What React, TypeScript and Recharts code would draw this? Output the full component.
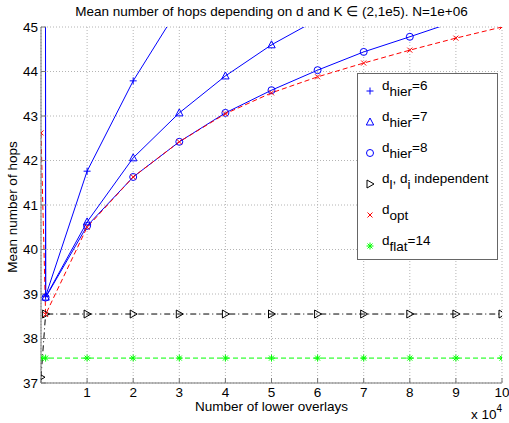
import React from 'react';
import { LineChart, Line, XAxis, YAxis, CartesianGrid } from 'recharts';

const overlays = [0, 0.1, 1, 2, 3, 4, 5, 6, 7, 8, 9, 10];
const hier6 = [300, 38.95, 41.76, 43.79, 45.45, null, null, null, null, null, null, null];
const hier7 = [300, 38.93, 40.62, 42.06, 43.07, 43.9, 44.6, 45.17, null, null, null, null];
const hier8 = [300, 38.92, 40.53, 41.63, 42.42, 43.07, 43.58, 44.03, 44.44, 44.78, 45.13, null];
const indep = [37.13, 38.55, 38.55, 38.55, 38.55, 38.55, 38.55, 38.55, 38.55, 38.55, 38.55, 38.55];
const opt = [42.62, 38.54, 40.5, 41.63, 42.42, 43.05, 43.52, 43.88, 44.19, 44.48, 44.75, 45.0];
const flat = [37.56, 37.56, 37.56, 37.56, 37.56, 37.56, 37.56, 37.56, 37.56, 37.56, 37.56, 37.56];
const xTicks = [0, 1, 2, 3, 4, 5, 6, 7, 8, 9, 10];
const yTicks = [37, 38, 39, 40, 41, 42, 43, 44, 45];

const rows = overlays.map((x, i) => ({
  x,
  hier6: hier6[i],
  hier7: hier7[i],
  hier8: hier8[i],
  indep: indep[i],
  opt: opt[i],
  flat: flat[i],
}));

const BLUE = '#0000ff';
const RED = '#ff0000';
const GREEN = '#00ff00';
const BLACK = '#000000';
const FONT = '"Liberation Sans", Arial, Helvetica, sans-serif';
const FS = 13.5;

type Kind = 'plus' | 'tri' | 'circle' | 'rtri' | 'x' | 'star';

function markerShape(kind: Kind, cx: number, cy: number, color: string) {
  const s = { stroke: color, strokeWidth: 1, fill: 'none' };
  switch (kind) {
    case 'plus':
      return (
        <g>
          <line x1={cx - 3.5} y1={cy} x2={cx + 3.5} y2={cy} {...s} />
          <line x1={cx} y1={cy - 3.5} x2={cx} y2={cy + 3.5} {...s} />
        </g>
      );
    case 'tri':
      return <polygon points={`${cx},${cy - 4} ${cx + 3.7},${cy + 3} ${cx - 3.7},${cy + 3}`} {...s} />;
    case 'circle':
      return <circle cx={cx} cy={cy} r={3.5} {...s} />;
    case 'rtri':
      return <polygon points={`${cx - 3},${cy - 4} ${cx + 4},${cy} ${cx - 3},${cy + 4}`} {...s} />;
    case 'x':
      return (
        <g>
          <line x1={cx - 2.5} y1={cy - 2.5} x2={cx + 2.5} y2={cy + 2.5} {...s} />
          <line x1={cx - 2.5} y1={cy + 2.5} x2={cx + 2.5} y2={cy - 2.5} {...s} />
        </g>
      );
    case 'star':
    default:
      return (
        <g>
          <line x1={cx - 3.5} y1={cy} x2={cx + 3.5} y2={cy} {...s} />
          <line x1={cx} y1={cy - 3.5} x2={cx} y2={cy + 3.5} {...s} />
          <line x1={cx - 2.5} y1={cy - 2.5} x2={cx + 2.5} y2={cy + 2.5} {...s} />
          <line x1={cx - 2.5} y1={cy + 2.5} x2={cx + 2.5} y2={cy - 2.5} {...s} />
        </g>
      );
  }
}

const makeDot = (kind: Kind, color: string) => (p: any) => {
  const { cx, cy, value, index } = p;
  const v = Array.isArray(value) ? value[1] : value;
  if (cx == null || cy == null || v == null || v > 45.05 || v < 36.95) {
    return <g key={`e-${index}`} />;
  }
  return <g key={`m-${index}`}>{markerShape(kind, cx, cy, color)}</g>;
};

const legendItems: { kind: Kind; color: string; main: string; sub: string; rest: string; extra?: boolean }[] = [
  { kind: 'plus', color: BLUE, main: 'd', sub: 'hier', rest: '=6' },
  { kind: 'tri', color: BLUE, main: 'd', sub: 'hier', rest: '=7' },
  { kind: 'circle', color: BLUE, main: 'd', sub: 'hier', rest: '=8' },
  { kind: 'rtri', color: BLACK, main: 'd', sub: 'l', rest: '', extra: true },
  { kind: 'x', color: RED, main: 'd', sub: 'opt', rest: '' },
  { kind: 'star', color: GREEN, main: 'd', sub: 'flat', rest: '=14' },
];

function LegendBox() {
  return (
    <div
      style={{
        position: 'absolute',
        left: 357,
        top: 73,
        width: 139,
        height: 185,
        border: '1px solid #666',
        background: '#fff',
        fontFamily: FONT,
        fontSize: FS,
        color: '#000',
      }}
    >
      {legendItems.map((it, i) => {
        const cy = 15.5 + i * 31;
        return (
          <div key={i} style={{ position: 'absolute', left: 0, top: cy - 10, width: 139, height: 20 }}>
            <svg width={20} height={20} style={{ position: 'absolute', left: 2, top: 0 }}>
              {markerShape(it.kind, 10, 11, it.color)}
            </svg>
            <div style={{ position: 'absolute', left: 24, top: -2, whiteSpace: 'nowrap', lineHeight: '15px' }}>
              {it.main}
              <span style={{ position: 'relative', top: 6 }}>{it.sub}</span>
              {it.extra ? (
                <>
                  {', d'}
                  <span style={{ position: 'relative', top: 6 }}>i</span>
                  {' independent'}
                </>
              ) : (
                it.rest
              )}
            </div>
          </div>
        );
      })}
    </div>
  );
}

export default function App() {
  return (
    <div
      style={{
        position: 'absolute',
        left: 0,
        top: 0,
        width: 509,
        height: 423,
        background: '#fff',
        fontFamily: FONT,
      }}
    >
      <LineChart width={509} height={423} data={rows} margin={{ top: 27, right: 7, bottom: 0, left: 0 }}>
        <CartesianGrid xAxisId="b" yAxisId="l" stroke="#b4b4b4" strokeDasharray="1 2" />
        <XAxis
          xAxisId="b"
          dataKey="x"
          type="number"
          domain={[0, 10]}
          ticks={xTicks}
          interval={0}
          allowDataOverflow
          height={40}
          stroke="#777"
          tickSize={-5}
          tickMargin={9}
          tickFormatter={(v: number) => (v === 0 ? '' : String(v))}
          tick={{ fill: '#000', fontSize: FS, fontFamily: FONT }}
        />
        <XAxis
          xAxisId="t"
          orientation="top"
          dataKey="x"
          type="number"
          domain={[0, 10]}
          ticks={xTicks}
          interval={0}
          allowDataOverflow
          height={0}
          stroke="#777"
          tickSize={-5}
          tick={false}
        />
        <YAxis
          yAxisId="l"
          type="number"
          domain={[37, 45]}
          ticks={yTicks}
          interval={0}
          allowDataOverflow
          width={41}
          stroke="#777"
          tickSize={-5}
          tickMargin={8}
          tick={{ fill: '#000', fontSize: FS, fontFamily: FONT }}
        />
        <YAxis
          yAxisId="r"
          orientation="right"
          type="number"
          domain={[37, 45]}
          ticks={yTicks}
          interval={0}
          allowDataOverflow
          width={0}
          stroke="#777"
          tickSize={-5}
          tick={false}
        />
        <Line xAxisId="b" yAxisId="l" type="linear" dataKey="hier6" stroke={BLUE} strokeWidth={1} dot={makeDot('plus', BLUE)} activeDot={false} isAnimationActive={false} />
        <Line xAxisId="b" yAxisId="l" type="linear" dataKey="hier7" stroke={BLUE} strokeWidth={1} dot={makeDot('tri', BLUE)} activeDot={false} isAnimationActive={false} />
        <Line xAxisId="b" yAxisId="l" type="linear" dataKey="hier8" stroke={BLUE} strokeWidth={1} dot={makeDot('circle', BLUE)} activeDot={false} isAnimationActive={false} />
        <Line xAxisId="b" yAxisId="l" type="linear" dataKey="indep" stroke={BLACK} strokeWidth={1} strokeDasharray="6 3 1 3" dot={makeDot('rtri', BLACK)} activeDot={false} isAnimationActive={false} />
        <Line xAxisId="b" yAxisId="l" type="linear" dataKey="opt" stroke={RED} strokeWidth={1} strokeDasharray="5 3" dot={makeDot('x', RED)} activeDot={false} isAnimationActive={false} />
        <Line xAxisId="b" yAxisId="l" type="linear" dataKey="flat" stroke={GREEN} strokeWidth={1} strokeDasharray="5 3" dot={makeDot('star', GREEN)} activeDot={false} isAnimationActive={false} />
      </LineChart>

      <div
        style={{
          position: 'absolute',
          left: 41,
          width: 461,
          top: 4,
          textAlign: 'center',
          fontSize: FS,
          lineHeight: '15px',
          color: '#000',
          whiteSpace: 'nowrap',
        }}
      >
        Mean number of hops depending on d and K ∈ (2,1e5). N=1e+06
      </div>

      <div
        style={{
          position: 'absolute',
          left: 41,
          width: 461,
          top: 399,
          textAlign: 'center',
          fontSize: FS,
          lineHeight: '15px',
          color: '#000',
        }}
      >
        Number of lower overlays
      </div>

      <div
        style={{
          position: 'absolute',
          left: 471,
          top: 407,
          fontSize: FS,
          lineHeight: '15px',
          color: '#000',
          whiteSpace: 'nowrap',
        }}
      >
        x 10<span style={{ position: 'relative', top: -7, fontSize: 10 }}>4</span>
      </div>

      <div
        style={{
          position: 'absolute',
          left: 13 - 80,
          top: 207 - 8,
          width: 160,
          height: 16,
          textAlign: 'center',
          fontSize: FS,
          lineHeight: '16px',
          color: '#000',
          transform: 'rotate(-90deg)',
          whiteSpace: 'nowrap',
        }}
      >
        Mean number of hops
      </div>

      <LegendBox />
    </div>
  );
}
